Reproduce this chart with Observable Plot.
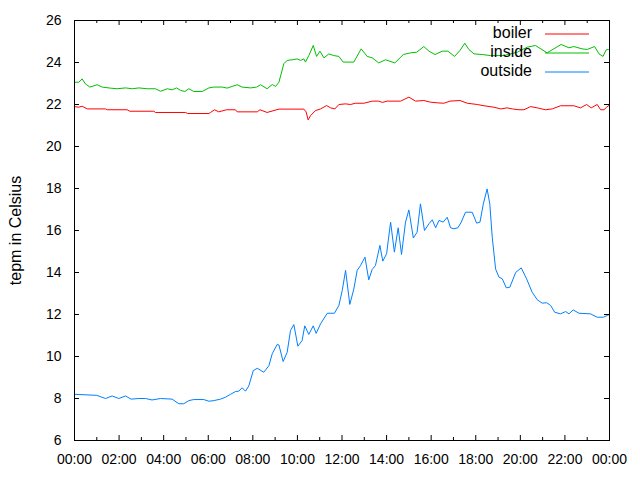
<!DOCTYPE html>
<html><head><meta charset="utf-8">
<script src="https://cdn.jsdelivr.net/npm/d3@7"></script>
<script src="https://cdn.jsdelivr.net/npm/@observablehq/plot@0.6"></script>
<style>
html,body{margin:0;padding:0;background:#fff;}
</style>
</head><body><div id="chart"></div>
<script>
const seriesNames = ["boiler", "inside", "outside"];
const seriesColors = ["#ff0000", "#00c000", "#0080ff"];
const yLabel = "tepm in Celsius";

// [hour of day, temperature]
const boiler = [[0,21.9],[0.19,21.87],[0.34,21.92],[0.57,21.79],[1.39,21.79],[1.47,21.75],[2.36,21.75],[2.48,21.68],[3.56,21.68],[3.63,21.62],[4.98,21.62],[5.08,21.57],[6.03,21.57],[6.1,21.62],[6.28,21.75],[6.47,21.65],[6.82,21.75],[7.22,21.75],[7.3,21.65],[8.2,21.65],[8.32,21.75],[8.64,21.62],[9.17,21.78],[10.29,21.78],[10.39,21.65],[10.48,21.27],[10.59,21.47],[10.81,21.71],[11.04,21.79],[11.31,21.95],[11.49,21.84],[11.68,21.79],[11.86,22.0],[12.16,22.03],[12.38,22.0],[12.6,22.06],[12.98,22.06],[13.36,22.16],[13.65,22.16],[13.81,22.1],[14.03,22.16],[14.63,22.16],[15.0,22.35],[15.3,22.16],[15.67,22.19],[15.97,22.11],[16.27,22.08],[16.57,22.06],[16.84,22.16],[17.29,22.19],[17.62,22.06],[18.07,22.0],[18.37,21.94],[18.82,21.87],[19.12,21.79],[19.41,21.84],[19.64,21.79],[19.94,21.75],[20.16,21.75],[20.46,21.9],[20.76,21.84],[21.13,21.75],[21.43,21.79],[21.8,21.94],[22.4,21.94],[22.7,21.84],[22.97,22.0],[23.18,21.84],[23.45,22.0],[23.6,21.75],[23.75,21.75],[23.87,21.87],[23.97,21.95]];

const inside = [[0,23.06],[0.19,23.06],[0.34,23.22],[0.49,22.98],[0.69,22.83],[1.02,22.94],[1.24,22.83],[1.61,22.78],[1.91,22.75],[2.29,22.79],[2.59,22.75],[2.89,22.79],[3.26,22.75],[3.63,22.75],[3.86,22.63],[4.16,22.75],[4.38,22.7],[4.58,22.79],[4.76,22.67],[4.95,22.62],[5.13,22.75],[5.35,22.62],[5.73,22.62],[6.03,22.79],[6.25,22.83],[6.63,22.83],[6.85,22.78],[7.07,22.86],[7.3,22.94],[7.52,22.83],[7.9,22.79],[8.17,22.83],[8.35,22.94],[8.64,22.75],[8.87,22.95],[9.02,22.86],[9.17,23.06],[9.39,23.94],[9.54,24.1],[9.77,24.13],[9.99,24.17],[10.14,24.1],[10.29,24.17],[10.36,24.02],[10.51,24.33],[10.71,24.81],[10.86,24.29],[11.01,24.54],[11.19,24.22],[11.41,24.41],[11.63,24.33],[11.86,24.29],[12.05,24.02],[12.53,24.02],[12.86,24.65],[13.13,24.29],[13.36,24.22],[13.65,23.98],[13.95,24.13],[14.37,23.98],[14.75,24.38],[15.08,24.46],[15.35,24.49],[15.67,24.76],[15.9,24.54],[16.17,24.38],[16.5,24.54],[16.75,24.54],[17.05,24.29],[17.29,24.57],[17.51,24.92],[17.69,24.62],[17.92,24.41],[18.29,24.38],[18.66,24.33],[19.26,24.33],[19.86,24.49],[20.31,24.73],[20.68,24.81],[21.2,24.46],[21.5,24.65],[21.83,24.86],[22.18,24.7],[22.4,24.76],[22.77,24.65],[23.0,24.62],[23.33,24.76],[23.53,24.41],[23.71,24.29],[23.85,24.6],[23.95,24.62]];

const outside = [[0,8.2],[1.0,8.15],[1.39,8.0],[1.69,8.12],[1.99,8.0],[2.29,8.12],[2.54,7.97],[2.89,8.0],[3.19,8.0],[3.48,7.93],[3.86,8.0],[4.38,7.97],[4.68,7.75],[4.9,7.75],[5.13,7.9],[5.35,7.95],[5.8,7.95],[6.03,7.87],[6.25,7.9],[6.55,7.97],[6.77,8.06],[7.0,8.2],[7.22,8.33],[7.37,8.35],[7.52,8.51],[7.67,8.35],[7.82,8.6],[8.02,9.33],[8.2,9.44],[8.49,9.25],[8.72,9.56],[8.87,10.13],[9.09,10.57],[9.17,10.55],[9.36,9.76],[9.54,10.2],[9.69,11.24],[9.84,11.52],[10.02,10.49],[10.21,10.76],[10.33,11.46],[10.51,11.05],[10.71,11.46],[10.84,11.1],[11.04,11.56],[11.34,12.06],[11.66,12.06],[11.86,12.43],[12.01,13.14],[12.16,14.1],[12.35,12.48],[12.53,13.21],[12.68,14.1],[12.83,14.33],[13.03,14.73],[13.2,13.65],[13.35,14.14],[13.5,14.33],[13.7,15.29],[13.83,14.54],[14.0,14.89],[14.18,16.4],[14.35,14.97],[14.52,16.13],[14.67,14.86],[14.85,16.4],[15.0,16.98],[15.2,15.64],[15.37,15.92],[15.52,17.27],[15.7,16.0],[15.9,16.32],[16.05,16.51],[16.2,16.13],[16.35,16.48],[16.54,16.4],[16.72,16.63],[16.87,16.13],[17.02,16.08],[17.2,16.13],[17.35,16.4],[17.54,16.87],[17.84,16.87],[18.04,16.35],[18.19,16.4],[18.34,17.27],[18.51,17.98],[18.63,17.27],[18.74,15.68],[18.89,14.17],[19.04,13.78],[19.19,13.7],[19.37,13.27],[19.53,13.3],[19.79,14.0],[20.04,14.22],[20.28,13.7],[20.53,13.06],[20.76,12.7],[20.98,12.54],[21.18,12.56],[21.36,12.43],[21.54,12.11],[21.8,12.03],[22.03,12.14],[22.18,12.03],[22.37,12.22],[22.63,12.06],[23.15,12.03],[23.45,11.87],[23.72,11.87],[23.9,11.95],[24,12.0]];

const xTicks = [0, 2, 4, 6, 8, 10, 12, 14, 16, 18, 20, 22, 24];
const xTickLabels = ["00:00","02:00","04:00","06:00","08:00","10:00","12:00","14:00","16:00","18:00","20:00","22:00","00:00"];
const xMinorTicks = [1, 3, 5, 7, 9, 11, 13, 15, 17, 19, 21, 23];
const yTicks = [6, 8, 10, 12, 14, 16, 18, 20, 22, 24, 26];

const rows = [];
[boiler, inside, outside].forEach((arr, i) => arr.forEach(([h, v]) => rows.push({series: seriesNames[i], h, v})));

function hasFont(name) {
  const c = document.createElement("canvas").getContext("2d");
  const s = "00:00 abcdefgWxyz";
  c.font = "40px monospace"; const a = c.measureText(s).width;
  c.font = `40px '${name}', monospace`; const b = c.measureText(s).width;
  return a !== b;
}
const narrow = hasFont("Liberation Sans Narrow");
const tickFamily = narrow ? "'Liberation Sans Narrow', 'Liberation Sans', Arial, sans-serif" : "'Liberation Sans', Arial, sans-serif";
const tickSize = narrow ? 15.5 : 14;

const W = 640, H = 480, mL = 74, mR = 31, mT = 20, mB = 40;
const fw = W - mL - mR, fh = H - mT - mB;

const chart = Plot.plot({
  width: W, height: H,
  marginLeft: mL, marginRight: mR, marginTop: mT, marginBottom: mB,
  style: {fontFamily: "'Liberation Sans', Arial, sans-serif", fontSize: "16px", background: "#fff", color: "#000"},
  x: {type: "linear", domain: [0, 24]},
  y: {type: "linear", domain: [6, 26]},
  color: {domain: seriesNames, range: seriesColors},
  marks: [
    Plot.line(rows, {x: "h", y: "v", z: "series", stroke: "series", strokeWidth: 1}),
    Plot.ruleX(xTicks, {x: d => d, insetTop: fh - 5, stroke: "#000"}),
    Plot.ruleX(xTicks, {x: d => d, insetBottom: fh - 5, stroke: "#000"}),
    Plot.ruleX(xMinorTicks, {x: d => d, insetTop: fh - 3, stroke: "#000"}),
    Plot.ruleX(xMinorTicks, {x: d => d, insetBottom: fh - 3, stroke: "#000"}),
    Plot.ruleY(yTicks, {y: d => d, insetRight: fw - 5, stroke: "#000"}),
    Plot.ruleY(yTicks, {y: d => d, insetLeft: fw - 5, stroke: "#000"}),
    Plot.frame({stroke: "#000"}),
    Plot.axisX(xTicks, {tickSize: 0, tickPadding: 14, tickFormat: d => xTickLabels[xTicks.indexOf(d)], label: null, fontSize: tickSize, fontFamily: tickFamily, fill: "#000"}),
    Plot.axisY(yTicks, {tickSize: 0, tickPadding: 13, label: null, fontSize: tickSize, fontFamily: tickFamily, fill: "#000"}),
    Plot.text([yLabel], {text: d => d, frameAnchor: "left", rotate: -90, dx: -59, textAnchor: "middle", lineAnchor: "middle", fontSize: 16, fill: "#000"})
  ]
});
document.getElementById("chart").appendChild(chart);

// legend (gnuplot style key, top right inside the frame)
const svg = d3.select(chart);
const key = svg.append("g").attr("font-family", "'Liberation Sans', Arial, sans-serif").attr("font-size", 16);
seriesNames.forEach((name, i) => {
  const yMid = mT + 13.5 + i * 19;
  key.append("text").attr("x", W - mR - 77).attr("y", yMid + 4.5).attr("text-anchor", "end").attr("fill", "#000").text(name);
  key.append("line").attr("x1", W - mR - 64).attr("x2", W - mR - 20).attr("y1", yMid + 0.5).attr("y2", yMid + 0.5)
    .attr("stroke", seriesColors[i]).attr("stroke-width", 1);
});
</script>
</body></html>
